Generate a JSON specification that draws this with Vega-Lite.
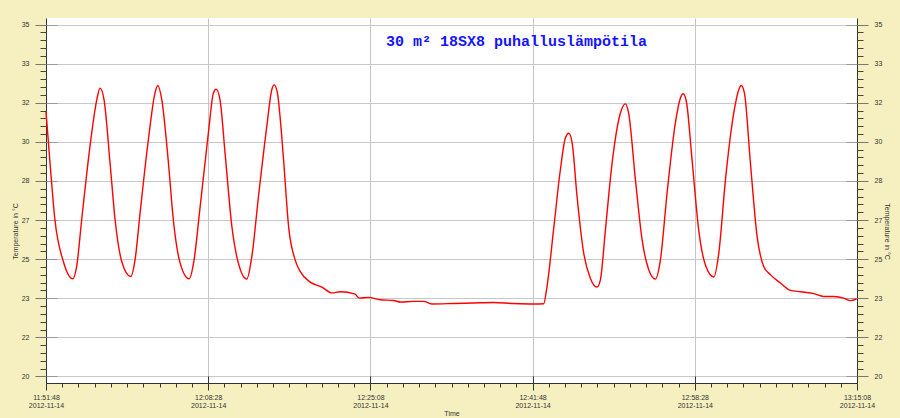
{
  "$schema": "https://vega.github.io/schema/vega-lite/v6.json",
  "width": 811,
  "height": 365,
  "autosize": {"type": "none"},
  "padding": {"left": 46, "top": 18, "right": 43, "bottom": 35},
  "background": "#F6F0C0",
  "config": {"view": {"stroke": null, "fill": "white"}},
  "title": {
    "text": "30 m² 18SX8 puhalluslämpötila",
    "font": "Liberation Mono",
    "fontSize": 15,
    "fontWeight": "bold",
    "color": "#1414ff",
    "anchor": "middle",
    "frame": "group",
    "dx": 65,
    "offset": -43,
    "baseline": "alphabetic"
  },
  "data": {
    "values": [
      {"time": "2012-11-14T11:51:48", "temp": 31.29},
      {"time": "2012-11-14T11:52:13", "temp": 29.09},
      {"time": "2012-11-14T11:52:43", "temp": 26.68},
      {"time": "2012-11-14T11:53:35", "temp": 24.9},
      {"time": "2012-11-14T11:54:33", "temp": 24.16},
      {"time": "2012-11-14T11:54:57", "temp": 24.69},
      {"time": "2012-11-14T11:55:28", "temp": 26.68},
      {"time": "2012-11-14T11:56:19", "temp": 29.8},
      {"time": "2012-11-14T11:57:01", "temp": 31.79},
      {"time": "2012-11-14T11:57:21", "temp": 32.29},
      {"time": "2012-11-14T11:57:46", "temp": 31.79},
      {"time": "2012-11-14T11:58:23", "temp": 29.09},
      {"time": "2012-11-14T11:58:54", "temp": 26.68},
      {"time": "2012-11-14T11:59:35", "temp": 24.9},
      {"time": "2012-11-14T12:00:30", "temp": 24.26},
      {"time": "2012-11-14T12:00:57", "temp": 24.97},
      {"time": "2012-11-14T12:01:28", "temp": 26.96},
      {"time": "2012-11-14T12:02:19", "temp": 30.09},
      {"time": "2012-11-14T12:03:00", "temp": 32.08},
      {"time": "2012-11-14T12:03:17", "temp": 32.4},
      {"time": "2012-11-14T12:03:42", "temp": 31.79},
      {"time": "2012-11-14T12:04:23", "temp": 29.09},
      {"time": "2012-11-14T12:04:53", "temp": 26.68},
      {"time": "2012-11-14T12:05:35", "temp": 24.83},
      {"time": "2012-11-14T12:06:30", "temp": 24.16},
      {"time": "2012-11-14T12:07:01", "temp": 24.97},
      {"time": "2012-11-14T12:07:34", "temp": 26.96},
      {"time": "2012-11-14T12:08:29", "temp": 30.37},
      {"time": "2012-11-14T12:09:00", "temp": 32.08},
      {"time": "2012-11-14T12:09:17", "temp": 32.25},
      {"time": "2012-11-14T12:09:41", "temp": 31.79},
      {"time": "2012-11-14T12:10:12", "temp": 29.52},
      {"time": "2012-11-14T12:10:54", "temp": 26.39},
      {"time": "2012-11-14T12:11:34", "temp": 24.83},
      {"time": "2012-11-14T12:12:26", "temp": 24.15},
      {"time": "2012-11-14T12:12:57", "temp": 25.11},
      {"time": "2012-11-14T12:13:38", "temp": 27.67},
      {"time": "2012-11-14T12:14:29", "temp": 30.65},
      {"time": "2012-11-14T12:15:00", "temp": 32.22},
      {"time": "2012-11-14T12:15:15", "temp": 32.43},
      {"time": "2012-11-14T12:15:35", "temp": 32.08},
      {"time": "2012-11-14T12:15:52", "temp": 31.0},
      {"time": "2012-11-14T12:16:12", "temp": 29.3},
      {"time": "2012-11-14T12:16:45", "temp": 26.3},
      {"time": "2012-11-14T12:17:24", "temp": 24.97},
      {"time": "2012-11-14T12:17:55", "temp": 24.48},
      {"time": "2012-11-14T12:18:57", "temp": 24.02},
      {"time": "2012-11-14T12:20:09", "temp": 23.81},
      {"time": "2012-11-14T12:21:10", "temp": 23.56},
      {"time": "2012-11-14T12:22:02", "temp": 23.61},
      {"time": "2012-11-14T12:23:34", "temp": 23.51},
      {"time": "2012-11-14T12:23:59", "temp": 23.34},
      {"time": "2012-11-14T12:24:56", "temp": 23.37},
      {"time": "2012-11-14T12:26:08", "temp": 23.27},
      {"time": "2012-11-14T12:27:31", "temp": 23.24},
      {"time": "2012-11-14T12:28:12", "temp": 23.17},
      {"time": "2012-11-14T12:29:34", "temp": 23.2},
      {"time": "2012-11-14T12:30:36", "temp": 23.2},
      {"time": "2012-11-14T12:31:27", "temp": 23.09},
      {"time": "2012-11-14T12:33:41", "temp": 23.11},
      {"time": "2012-11-14T12:36:25", "temp": 23.14},
      {"time": "2012-11-14T12:37:48", "temp": 23.15},
      {"time": "2012-11-14T12:39:51", "temp": 23.11},
      {"time": "2012-11-14T12:41:54", "temp": 23.09},
      {"time": "2012-11-14T12:42:56", "temp": 23.1},
      {"time": "2012-11-14T12:43:17", "temp": 23.84},
      {"time": "2012-11-14T12:43:58", "temp": 26.3},
      {"time": "2012-11-14T12:44:39", "temp": 28.8},
      {"time": "2012-11-14T12:45:10", "temp": 30.16},
      {"time": "2012-11-14T12:45:31", "temp": 30.37},
      {"time": "2012-11-14T12:45:52", "temp": 29.95},
      {"time": "2012-11-14T12:46:22", "temp": 27.67},
      {"time": "2012-11-14T12:47:03", "temp": 25.26},
      {"time": "2012-11-14T12:47:44", "temp": 24.19},
      {"time": "2012-11-14T12:48:25", "temp": 23.81},
      {"time": "2012-11-14T12:48:46", "temp": 24.12},
      {"time": "2012-11-14T12:49:17", "temp": 26.25},
      {"time": "2012-11-14T12:49:58", "temp": 29.09},
      {"time": "2012-11-14T12:50:49", "temp": 31.22},
      {"time": "2012-11-14T12:51:20", "temp": 31.62},
      {"time": "2012-11-14T12:51:40", "temp": 31.22},
      {"time": "2012-11-14T12:52:22", "temp": 28.38},
      {"time": "2012-11-14T12:53:03", "temp": 25.83},
      {"time": "2012-11-14T12:53:44", "temp": 24.55},
      {"time": "2012-11-14T12:54:25", "temp": 24.15},
      {"time": "2012-11-14T12:54:56", "temp": 24.97},
      {"time": "2012-11-14T12:55:37", "temp": 27.81},
      {"time": "2012-11-14T12:56:28", "temp": 30.8},
      {"time": "2012-11-14T12:56:59", "temp": 31.86},
      {"time": "2012-11-14T12:57:16", "temp": 32.05},
      {"time": "2012-11-14T12:57:36", "temp": 31.72},
      {"time": "2012-11-14T12:58:11", "temp": 29.24},
      {"time": "2012-11-14T12:58:52", "temp": 26.25},
      {"time": "2012-11-14T12:59:33", "temp": 24.76},
      {"time": "2012-11-14T13:00:25", "temp": 24.24},
      {"time": "2012-11-14T13:00:56", "temp": 25.26},
      {"time": "2012-11-14T13:01:37", "temp": 28.38},
      {"time": "2012-11-14T13:02:28", "temp": 31.22},
      {"time": "2012-11-14T13:02:59", "temp": 32.22},
      {"time": "2012-11-14T13:03:14", "temp": 32.4},
      {"time": "2012-11-14T13:03:34", "temp": 32.08},
      {"time": "2012-11-14T13:04:11", "temp": 29.09},
      {"time": "2012-11-14T13:04:52", "temp": 25.97},
      {"time": "2012-11-14T13:05:33", "temp": 24.69},
      {"time": "2012-11-14T13:06:14", "temp": 24.34},
      {"time": "2012-11-14T13:07:16", "temp": 23.98},
      {"time": "2012-11-14T13:08:18", "temp": 23.67},
      {"time": "2012-11-14T13:09:20", "temp": 23.61},
      {"time": "2012-11-14T13:10:42", "temp": 23.53},
      {"time": "2012-11-14T13:11:43", "temp": 23.41},
      {"time": "2012-11-14T13:12:45", "temp": 23.41},
      {"time": "2012-11-14T13:13:47", "temp": 23.34},
      {"time": "2012-11-14T13:14:28", "temp": 23.23},
      {"time": "2012-11-14T13:15:05", "temp": 23.3}
    ]
  },
  "resolve": {"axis": {"x": "independent", "y": "independent"}},
  "layer": [
    {
      "mark": {"type": "line", "color": "#ff0000", "strokeWidth": 1.4, "interpolate": "monotone"},
      "encoding": {
        "x": {
          "field": "time", "type": "temporal",
          "scale": {"domain": [{"year": 2012, "month": 11, "date": 14, "hours": 11, "minutes": 51, "seconds": 48}, {"year": 2012, "month": 11, "date": 14, "hours": 13, "minutes": 15, "seconds": 8}], "nice": false},
          "axis": {
            "orient": "bottom",
            "values": [
              {"year": 2012, "month": 11, "date": 14, "hours": 11, "minutes": 51, "seconds": 48},
              {"year": 2012, "month": 11, "date": 14, "hours": 12, "minutes": 8, "seconds": 28},
              {"year": 2012, "month": 11, "date": 14, "hours": 12, "minutes": 25, "seconds": 8},
              {"year": 2012, "month": 11, "date": 14, "hours": 12, "minutes": 41, "seconds": 48},
              {"year": 2012, "month": 11, "date": 14, "hours": 12, "minutes": 58, "seconds": 28},
              {"year": 2012, "month": 11, "date": 14, "hours": 13, "minutes": 15, "seconds": 8}
            ],
            "tickSize": 7, "tickColor": "#333", "domainColor": "#333",
            "grid": true, "gridColor": "#c4c4c4",
            "labelExpr": "[timeFormat(datum.value, '%H:%M:%S'), timeFormat(datum.value, '%Y-%m-%d')]",
            "labelFont": "Liberation Sans", "labelFontSize": 7, "labelColor": "#333",
            "labelPadding": 3, "labelLineHeight": 8, "labelFlush": false, "labelOverlap": false,
            "title": "Time", "titleFont": "Liberation Sans", "titleFontSize": 7, "titleFontWeight": "normal",
            "titleColor": "#333", "titleY": 30, "titleBaseline": "middle"
          }
        },
        "y": {
          "field": "temp", "type": "quantitative",
          "scale": {"domain": [19.72, 35.28], "zero": false, "nice": false},
          "axis": {
            "orient": "left",
            "values": [20, 21.6667, 23.3333, 25, 26.6667, 28.3333, 30, 31.6667, 33.3333, 35],
            "tickSize": 11, "tickColor": "#777", "domainColor": "#333",
            "grid": true, "gridColor": "#c8c8c8",
            "labelExpr": "'' + round(datum.value)",
            "labelFont": "Liberation Sans", "labelFontSize": 7, "labelColor": "#333", "labelPadding": 6,
            "title": "Temperature in °C", "titleFont": "Liberation Sans", "titleFontSize": 7,
            "titleFontWeight": "normal", "titleColor": "#333", "titleAngle": -90,
            "titleX": -31, "titleY": 213, "titleBaseline": "middle", "titleAlign": "center"
          }
        }
      }
    },
    {
      "mark": {"type": "point", "opacity": 0},
      "encoding": {
        "x": {
          "field": "time", "type": "temporal",
          "scale": {"domain": [{"year": 2012, "month": 11, "date": 14, "hours": 11, "minutes": 51, "seconds": 48}, {"year": 2012, "month": 11, "date": 14, "hours": 13, "minutes": 15, "seconds": 8}], "nice": false},
          "axis": {
            "orient": "bottom",
            "values": [
              {"year": 2012, "month": 11, "date": 14, "hours": 11, "minutes": 51, "seconds": 48},
              {"year": 2012, "month": 11, "date": 14, "hours": 12, "minutes": 8, "seconds": 28},
              {"year": 2012, "month": 11, "date": 14, "hours": 12, "minutes": 25, "seconds": 8},
              {"year": 2012, "month": 11, "date": 14, "hours": 12, "minutes": 41, "seconds": 48},
              {"year": 2012, "month": 11, "date": 14, "hours": 12, "minutes": 58, "seconds": 28},
              {"year": 2012, "month": 11, "date": 14, "hours": 13, "minutes": 15, "seconds": 8}
            ],
            "tickSize": -7, "tickColor": "#333", "labels": false, "domain": false, "grid": false, "title": null
          }
        },
        "y": {
          "field": "temp", "type": "quantitative",
          "scale": {"domain": [19.72, 35.28], "zero": false, "nice": false},
          "axis": {
            "orient": "left",
            "values": [20, 21.6667, 23.3333, 25, 26.6667, 28.3333, 30, 31.6667, 33.3333, 35],
            "tickSize": -11, "tickColor": "#999", "labels": false, "domain": false, "grid": false, "title": null
          }
        }
      }
    },
    {
      "mark": {"type": "point", "opacity": 0},
      "encoding": {
        "x": {
          "field": "time", "type": "temporal",
          "scale": {"domain": [{"year": 2012, "month": 11, "date": 14, "hours": 11, "minutes": 51, "seconds": 48}, {"year": 2012, "month": 11, "date": 14, "hours": 13, "minutes": 15, "seconds": 8}], "nice": false},
          "axis": {
            "orient": "bottom",
            "values": [
              {"year": 2012, "month": 11, "date": 14, "hours": 11, "minutes": 53, "seconds": 28},
              {"year": 2012, "month": 11, "date": 14, "hours": 11, "minutes": 55, "seconds": 8},
              {"year": 2012, "month": 11, "date": 14, "hours": 11, "minutes": 56, "seconds": 48},
              {"year": 2012, "month": 11, "date": 14, "hours": 11, "minutes": 58, "seconds": 28},
              {"year": 2012, "month": 11, "date": 14, "hours": 12, "minutes": 0, "seconds": 8},
              {"year": 2012, "month": 11, "date": 14, "hours": 12, "minutes": 1, "seconds": 48},
              {"year": 2012, "month": 11, "date": 14, "hours": 12, "minutes": 3, "seconds": 28},
              {"year": 2012, "month": 11, "date": 14, "hours": 12, "minutes": 5, "seconds": 8},
              {"year": 2012, "month": 11, "date": 14, "hours": 12, "minutes": 6, "seconds": 48},
              {"year": 2012, "month": 11, "date": 14, "hours": 12, "minutes": 10, "seconds": 8},
              {"year": 2012, "month": 11, "date": 14, "hours": 12, "minutes": 11, "seconds": 48},
              {"year": 2012, "month": 11, "date": 14, "hours": 12, "minutes": 13, "seconds": 28},
              {"year": 2012, "month": 11, "date": 14, "hours": 12, "minutes": 15, "seconds": 8},
              {"year": 2012, "month": 11, "date": 14, "hours": 12, "minutes": 16, "seconds": 48},
              {"year": 2012, "month": 11, "date": 14, "hours": 12, "minutes": 18, "seconds": 28},
              {"year": 2012, "month": 11, "date": 14, "hours": 12, "minutes": 20, "seconds": 8},
              {"year": 2012, "month": 11, "date": 14, "hours": 12, "minutes": 21, "seconds": 48},
              {"year": 2012, "month": 11, "date": 14, "hours": 12, "minutes": 23, "seconds": 28},
              {"year": 2012, "month": 11, "date": 14, "hours": 12, "minutes": 26, "seconds": 48},
              {"year": 2012, "month": 11, "date": 14, "hours": 12, "minutes": 28, "seconds": 28},
              {"year": 2012, "month": 11, "date": 14, "hours": 12, "minutes": 30, "seconds": 8},
              {"year": 2012, "month": 11, "date": 14, "hours": 12, "minutes": 31, "seconds": 48},
              {"year": 2012, "month": 11, "date": 14, "hours": 12, "minutes": 33, "seconds": 28},
              {"year": 2012, "month": 11, "date": 14, "hours": 12, "minutes": 35, "seconds": 8},
              {"year": 2012, "month": 11, "date": 14, "hours": 12, "minutes": 36, "seconds": 48},
              {"year": 2012, "month": 11, "date": 14, "hours": 12, "minutes": 38, "seconds": 28},
              {"year": 2012, "month": 11, "date": 14, "hours": 12, "minutes": 40, "seconds": 8},
              {"year": 2012, "month": 11, "date": 14, "hours": 12, "minutes": 43, "seconds": 28},
              {"year": 2012, "month": 11, "date": 14, "hours": 12, "minutes": 45, "seconds": 8},
              {"year": 2012, "month": 11, "date": 14, "hours": 12, "minutes": 46, "seconds": 48},
              {"year": 2012, "month": 11, "date": 14, "hours": 12, "minutes": 48, "seconds": 28},
              {"year": 2012, "month": 11, "date": 14, "hours": 12, "minutes": 50, "seconds": 8},
              {"year": 2012, "month": 11, "date": 14, "hours": 12, "minutes": 51, "seconds": 48},
              {"year": 2012, "month": 11, "date": 14, "hours": 12, "minutes": 53, "seconds": 28},
              {"year": 2012, "month": 11, "date": 14, "hours": 12, "minutes": 55, "seconds": 8},
              {"year": 2012, "month": 11, "date": 14, "hours": 12, "minutes": 56, "seconds": 48},
              {"year": 2012, "month": 11, "date": 14, "hours": 13, "minutes": 0, "seconds": 8},
              {"year": 2012, "month": 11, "date": 14, "hours": 13, "minutes": 1, "seconds": 48},
              {"year": 2012, "month": 11, "date": 14, "hours": 13, "minutes": 3, "seconds": 28},
              {"year": 2012, "month": 11, "date": 14, "hours": 13, "minutes": 5, "seconds": 8},
              {"year": 2012, "month": 11, "date": 14, "hours": 13, "minutes": 6, "seconds": 48},
              {"year": 2012, "month": 11, "date": 14, "hours": 13, "minutes": 8, "seconds": 28},
              {"year": 2012, "month": 11, "date": 14, "hours": 13, "minutes": 10, "seconds": 8},
              {"year": 2012, "month": 11, "date": 14, "hours": 13, "minutes": 11, "seconds": 48},
              {"year": 2012, "month": 11, "date": 14, "hours": 13, "minutes": 13, "seconds": 28}
            ],
            "tickSize": 4, "tickColor": "#333", "labels": false, "domain": false, "grid": false, "title": null
          }
        },
        "y": {
          "field": "temp", "type": "quantitative",
          "scale": {"domain": [19.72, 35.28], "zero": false, "nice": false},
          "axis": {
            "orient": "left",
            "values": [20.3333, 20.6667, 21, 21.3333, 22, 22.3333, 22.6667, 23, 23.6667, 24, 24.3333, 24.6667, 25.3333, 25.6667, 26, 26.3333, 27, 27.3333, 27.6667, 28, 28.6667, 29, 29.3333, 29.6667, 30.3333, 30.6667, 31, 31.3333, 32, 32.3333, 32.6667, 33, 33.6667, 34, 34.3333, 34.6667],
            "tickSize": 6, "tickColor": "#444", "labels": false, "domain": false, "grid": false, "title": null
          }
        }
      }
    },
    {
      "mark": {"type": "point", "opacity": 0},
      "encoding": {
        "x": {
          "field": "time", "type": "temporal",
          "scale": {"domain": [{"year": 2012, "month": 11, "date": 14, "hours": 11, "minutes": 51, "seconds": 48}, {"year": 2012, "month": 11, "date": 14, "hours": 13, "minutes": 15, "seconds": 8}], "nice": false},
          "axis": null
        },
        "y": {
          "field": "temp", "type": "quantitative",
          "scale": {"domain": [19.72, 35.28], "zero": false, "nice": false},
          "axis": {
            "orient": "right",
            "values": [20, 21.6667, 23.3333, 25, 26.6667, 28.3333, 30, 31.6667, 33.3333, 35],
            "tickSize": 11, "tickColor": "#777", "domainColor": "#333", "grid": false,
            "labelExpr": "'' + round(datum.value)",
            "labelFont": "Liberation Sans", "labelFontSize": 7, "labelColor": "#333", "labelPadding": 6,
            "title": "Temperature in °C", "titleFont": "Liberation Sans", "titleFontSize": 7,
            "titleFontWeight": "normal", "titleColor": "#333", "titleAngle": 90,
            "titleX": 29, "titleY": 213, "titleBaseline": "middle", "titleAlign": "center"
          }
        }
      }
    },
    {
      "mark": {"type": "point", "opacity": 0},
      "encoding": {
        "x": {
          "field": "time", "type": "temporal",
          "scale": {"domain": [{"year": 2012, "month": 11, "date": 14, "hours": 11, "minutes": 51, "seconds": 48}, {"year": 2012, "month": 11, "date": 14, "hours": 13, "minutes": 15, "seconds": 8}], "nice": false},
          "axis": null
        },
        "y": {
          "field": "temp", "type": "quantitative",
          "scale": {"domain": [19.72, 35.28], "zero": false, "nice": false},
          "axis": {
            "orient": "right",
            "values": [20, 21.6667, 23.3333, 25, 26.6667, 28.3333, 30, 31.6667, 33.3333, 35],
            "tickSize": -11, "tickColor": "#999", "labels": false, "domain": false, "grid": false, "title": null
          }
        }
      }
    },
    {
      "mark": {"type": "point", "opacity": 0},
      "encoding": {
        "x": {
          "field": "time", "type": "temporal",
          "scale": {"domain": [{"year": 2012, "month": 11, "date": 14, "hours": 11, "minutes": 51, "seconds": 48}, {"year": 2012, "month": 11, "date": 14, "hours": 13, "minutes": 15, "seconds": 8}], "nice": false},
          "axis": null
        },
        "y": {
          "field": "temp", "type": "quantitative",
          "scale": {"domain": [19.72, 35.28], "zero": false, "nice": false},
          "axis": {
            "orient": "right",
            "values": [20.3333, 20.6667, 21, 21.3333, 22, 22.3333, 22.6667, 23, 23.6667, 24, 24.3333, 24.6667, 25.3333, 25.6667, 26, 26.3333, 27, 27.3333, 27.6667, 28, 28.6667, 29, 29.3333, 29.6667, 30.3333, 30.6667, 31, 31.3333, 32, 32.3333, 32.6667, 33, 33.6667, 34, 34.3333, 34.6667],
            "tickSize": 6, "tickColor": "#444", "labels": false, "domain": false, "grid": false, "title": null
          }
        }
      }
    }
  ]
}
